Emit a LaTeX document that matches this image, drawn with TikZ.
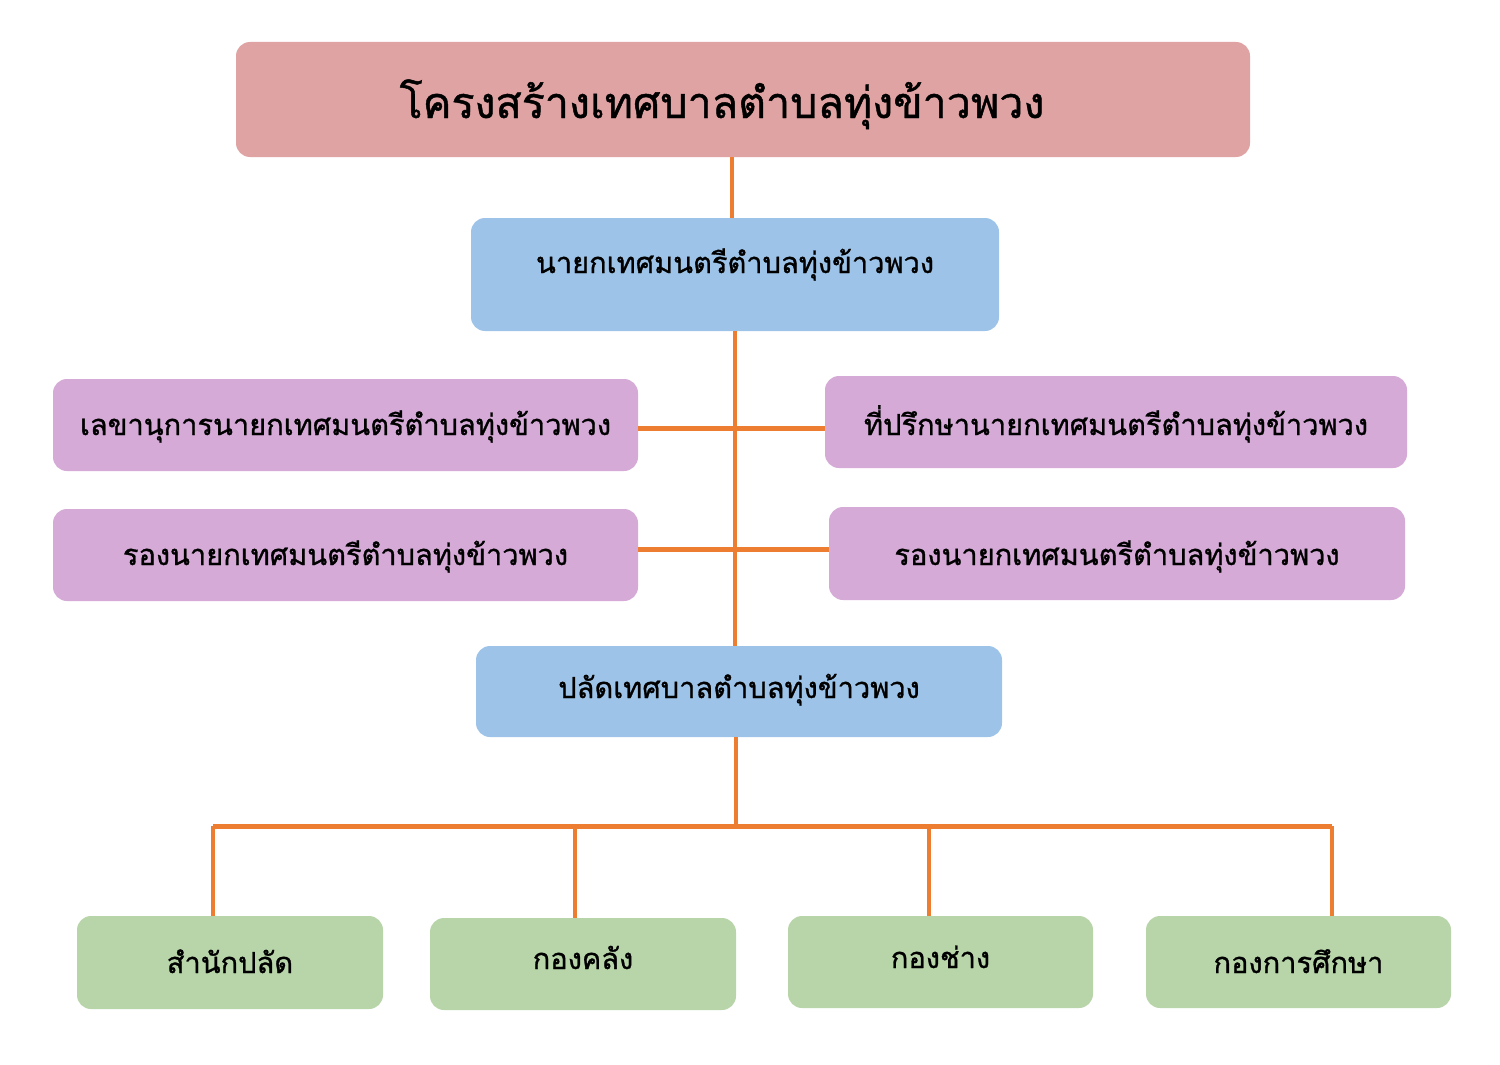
\documentclass[tikz,border=0pt]{standalone}
\usepackage{fontspec}
\newfontfamily\thaifont[Script=Thai,FakeBold=1]{Loma}
\definecolor{titlepink}{RGB}{224,163,163}
\definecolor{headblue}{RGB}{157,196,232}
\definecolor{staffviolet}{RGB}{213,170,215}
\definecolor{unitgreen}{RGB}{184,213,170}
\definecolor{linkorange}{RGB}{237,125,49}
\newcommand\lift[2]{\raisebox{#1}[0pt][0pt]{#2}}
\tikzset{
  orgbox/.style={rounded corners=14pt, inner sep=0pt, text=black,
    font=\thaifont\fontsize{29}{34}\selectfont},
  link/.style={draw=linkorange, line width=4.5pt},
}

\begin{document}
\begin{tikzpicture}[x=1pt,y=1pt,yscale=-1]
\useasboundingbox (0,0) rectangle (1500,1065);

% title and heads
\node [orgbox, fill=titlepink, minimum width=1014pt, minimum height=115pt, font=\thaifont\fontsize{43}{50}\selectfont] (title) at (743,99.5) {\hspace*{-42pt}\lift{-18.5pt}{โครงสร้างเทศบาลตำบลทุ่งข้าวพวง}};
\node [orgbox, fill=headblue, minimum width=528pt, minimum height=113pt] (mayor) at (735,274.5) {\lift{1.5pt}{นายกเทศมนตรีตำบลทุ่งข้าวพวง}};
\node [orgbox, fill=headblue, minimum width=526pt, minimum height=91pt] (clerk) at (739,691.5) {\lift{-6.5pt}{ปลัดเทศบาลตำบลทุ่งข้าวพวง}};

% staff
\node [orgbox, fill=staffviolet, minimum width=585pt, minimum height=92pt] (secretary) at (345.5,425) {\lift{-10pt}{เลขานุการนายกเทศมนตรีตำบลทุ่งข้าวพวง}};
\node [orgbox, fill=staffviolet, minimum width=582pt, minimum height=92pt] (advisor) at (1116,422) {\lift{-13pt}{ที่ปรึกษานายกเทศมนตรีตำบลทุ่งข้าวพวง}};
\node [orgbox, fill=staffviolet, minimum width=585pt, minimum height=92pt] (deputyL) at (345.5,555) {\lift{-10pt}{รองนายกเทศมนตรีตำบลทุ่งข้าวพวง}};
\node [orgbox, fill=staffviolet, minimum width=576pt, minimum height=93pt] (deputyR) at (1117,553.5) {\lift{-11.5pt}{รองนายกเทศมนตรีตำบลทุ่งข้าวพวง}};

% units
\node [orgbox, fill=unitgreen, minimum width=306pt, minimum height=93pt] (office) at (230,962.5) {\lift{-10.5pt}{สำนักปลัด}};
\node [orgbox, fill=unitgreen, minimum width=306pt, minimum height=92pt] (finance) at (583,964) {\lift{-5pt}{กองคลัง}};
\node [orgbox, fill=unitgreen, minimum width=305pt, minimum height=92pt] (works) at (940.5,962) {\lift{-6pt}{กองช่าง}};
\node [orgbox, fill=unitgreen, minimum width=305pt, minimum height=92pt] (education) at (1298.5,962) {\lift{-11pt}{กองการศึกษา}};

% connectors
\coordinate (bus) at (736,826);
\coordinate (d1) at (213,826);
\coordinate (d2) at (575,826);
\coordinate (d3) at (929,826);
\coordinate (d4) at (1332,826);
\draw [link] (title.south -| 732,0) -- (mayor.north -| 732,0);
\draw [link] (mayor.south) -- (clerk.north -| mayor.south);
\draw [link, line width=5pt] (secretary.east |- 0,428) -- (advisor.west |- 0,428);
\draw [link, line width=5pt] (deputyL.east |- 0,549) -- (deputyR.west |- 0,549);
\draw [link] (clerk.south -| bus) -- (bus);
\draw [link, line width=5pt] (d1) -- (d4);
\draw [link] (d1) -- (d1 |- office.north);
\draw [link] (d2) -- (d2 |- finance.north);
\draw [link] (d3) -- (d3 |- works.north);
\draw [link] (d4) -- (d4 |- education.north);

\end{tikzpicture}
\end{document}
